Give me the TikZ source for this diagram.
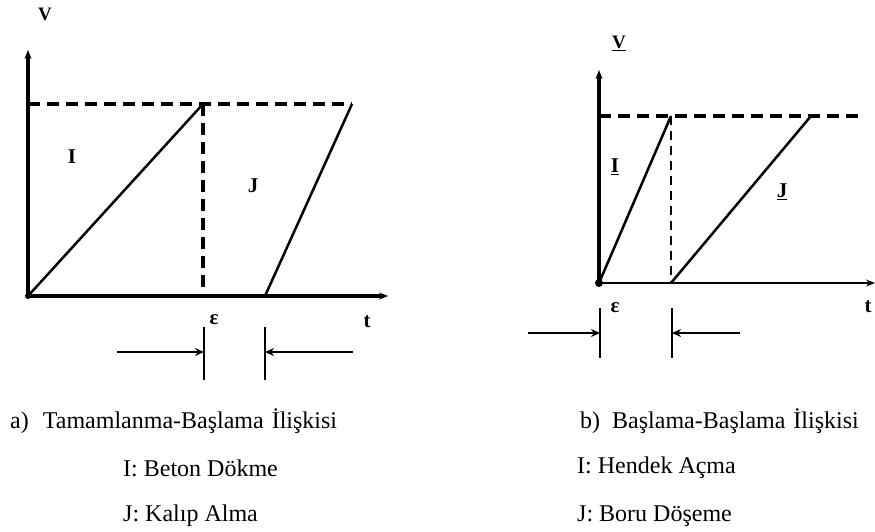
\documentclass[tikz,border=0pt]{standalone}
\usepackage{fontspec}
\setmainfont{Liberation Serif}
\usetikzlibrary{arrows.meta,positioning}
\tikzset{
  axthick/.style={line width=3.2pt},
  axthin/.style={line width=1.5pt},
  actln/.style={line width=2.5pt},
  limdash/.style={line width=3.2pt,dash pattern=on 12pt off 7pt},
  limdashthin/.style={line width=1.3pt,dash pattern=on 9pt off 6pt},
  tickln/.style={line width=2.8pt},
  tickthin/.style={line width=1.7pt},
  gaparr/.style={-{Stealth[length=9pt,width=8pt]},line width=2.8pt},
  lbl/.style={font=\bfseries\fontsize{21}{21}\selectfont,inner sep=0pt},
  captxt/.style={font=\fontsize{24}{24}\selectfont,anchor=west,inner sep=0pt},
  dotO/.style={circle,fill=black,inner sep=0pt,minimum size=8pt},
}
\begin{document}
\begin{tikzpicture}[x=1pt,y=-1pt]
  \useasboundingbox (0,0) rectangle (875,531);
  % a) tamamlanma-baslama
  \coordinate (O1) at (28,296);
  \coordinate (Y1) at (28,50);
  \coordinate (X1) at (388,296);
  \coordinate (P1) at (203,104);
  \coordinate (Q1) at (352,104);
  \coordinate (S1) at (265,296);
  \coordinate (F1) at (203,296);
  \draw[axthick,-{Stealth[length=9pt,width=7pt]}] (O1) -- (Y1);
  \draw[axthick,-{Stealth[length=9pt,width=7pt]}] (O1) -- (X1);
  \draw[limdash] (O1 |- P1) -- (Q1);
  \draw[limdash] (P1) -- (F1);
  \draw[actln] (O1) -- (P1);
  \draw[actln] (S1) -- (Q1);
  \node[dotO,minimum size=6pt] (o1) at (O1) {};
  \node[lbl,font=\bfseries\fontsize{19}{19}\selectfont] (v1) at (45,14) {V};
  \node[lbl] (i1) at (72,157) {I};
  \node[lbl] (j1) at (253,186) {J};
  \node[lbl] (e1) at (214,320) {ε};
  \node[lbl] (t1) at (367,322) {t};
  % gecikme
  \coordinate (T1a) at (204,327);
  \coordinate (T1b) at (204,380);
  \coordinate (T2a) at (265,327);
  \coordinate (T2b) at (265,380);
  \draw[tickln] (T1a) -- (T1b);
  \draw[tickln] (T2a) -- (T2b);
  \coordinate (A1) at (117,352);
  \coordinate (A2) at (353,352);
  \draw[gaparr] (A1) -- (T1a |- A1);
  \draw[gaparr] (A2) -- (T2a |- A2);
  % b) baslama-baslama
  \coordinate (O2) at (599,283);
  \coordinate (Y2) at (599,70);
  \coordinate (X2) at (875,283);
  \coordinate (P2) at (671,116);
  \coordinate (Q2) at (811,116);
  \coordinate (R2) at (860,116);
  \coordinate (S2) at (671,283);
  \draw[axthick,-{Stealth[length=9pt,width=7pt]}] (O2) -- (Y2);
  \draw[axthin,-{Stealth[length=9pt,width=7pt]}] (O2) -- (X2);
  \draw[limdash] (O2 |- P2) -- (R2);
  \draw[limdashthin] (P2) -- (S2);
  \draw[actln] (O2) -- (P2);
  \draw[actln] (S2) -- (Q2);
  \node[dotO] (o2) at (O2) {};
  \node[lbl,font=\bfseries\fontsize{19}{19}\selectfont] (v2) at (619,43) {\underline{V}};
  \node[lbl] (i2) at (615,167) {\underline{I}};
  \node[lbl] (j2) at (782,192) {\underline{J}};
  \node[lbl] (e2) at (615,308) {ε};
  \node[lbl] (t2) at (868,307) {t};
  \coordinate (U1a) at (600,308);
  \coordinate (U1b) at (600,358);
  \coordinate (U2a) at (672,308);
  \coordinate (U2b) at (672,358);
  \draw[tickln] (U1a) -- (U1b);
  \draw[tickthin] (U2a) -- (U2b);
  \coordinate (B1) at (528,333);
  \coordinate (B2) at (740,333);
  \draw[gaparr] (B1) -- (U1a |- B1);
  \draw[gaparr,line width=2.3pt] (B2) -- (U2a |- B2);
  % aciklamalar
  \node[captxt] (capa) at (10,421) {a)\hspace{14pt}Tamamlanma-Başlama\hspace{8pt}İlişkisi};
  \node[captxt] (capai) at (123,468) {I: Beton Dökme};
  \node[captxt] (capaj) at (123,516) {J: Kalıp Alma};
  \node[captxt] (capb) at (580,421) {b)\hspace{12pt}Başlama-Başlama\hspace{8pt}İlişkisi};
  \node[captxt] (capbi) at (577,468) {I: Hendek Açma};
  \node[captxt] (capbj) at (577,516) {J: Boru Döşeme};
\end{tikzpicture}
\end{document}
